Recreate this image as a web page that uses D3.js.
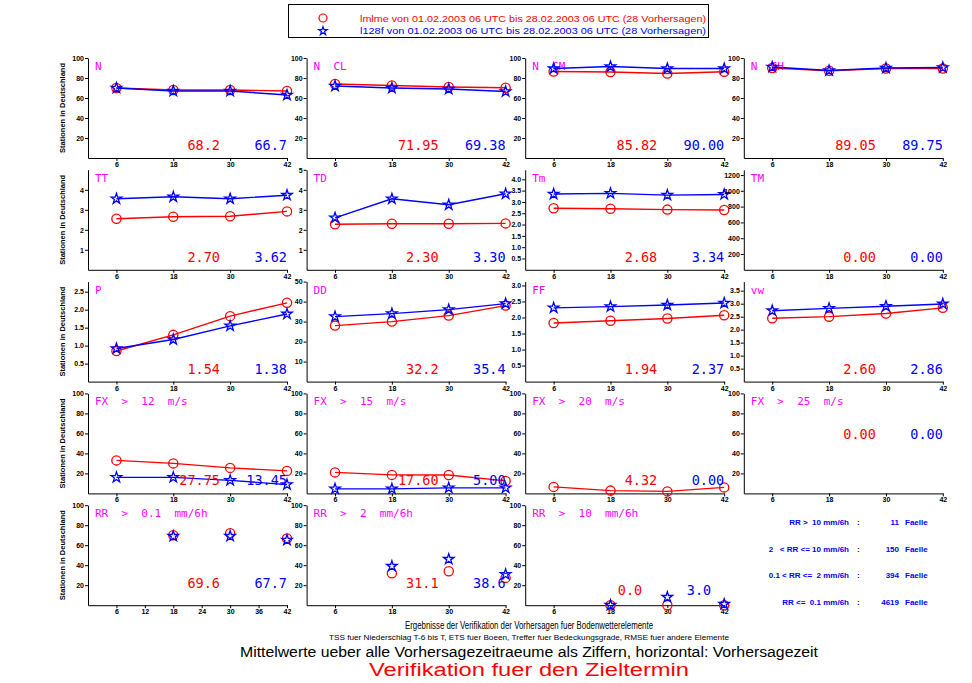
<!DOCTYPE html>
<html>
<head>
<meta charset="utf-8">
<script src="https://cdn.jsdelivr.net/npm/d3@7"></script>
<style>
body { margin: 0; background: #fff; }
svg { display: block; }
.axis text { font-family: "Liberation Sans", Arial, sans-serif; font-size: 7px; font-weight: bold; fill: #000; }
.axis path, .axis line { stroke: #000; stroke-width: 1; }
</style>
</head>
<body>
<div id="chart"></div>
<script>
const width = 972, height = 683;

// lead times (hours)
const leadTimes = [6, 18, 30, 42];
const rrTickTimes = [6, 12, 18, 24, 30, 36, 42];

const titles = ["N", "N  CL", "N  CM", "N  CH",
  "TT", "TD", "Tm", "TM",
  "P", "DD", "FF", "vw",
  "FX  >  12  m/s", "FX  >  15  m/s", "FX  >  20  m/s", "FX  >  25  m/s",
  "RR  >  0.1  mm/6h", "RR  >  2  mm/6h", "RR  >  10  mm/6h"];

// red circles: lmlme
const lmlmeValues = [
  [70, 68, 68, 67], [74, 72.5, 71, 70.3], [86.5, 86, 84.5, 86.3], [90, 87.2, 89.5, 89.5],
  [2.55, 2.65, 2.68, 2.92], [2.28, 2.3, 2.3, 2.32], [2.72, 2.7, 2.66, 2.64], [],
  [0.85, 1.3, 1.82, 2.19], [28, 30, 33, 38], [1.83, 1.9, 1.97, 2.07], [2.44, 2.5, 2.62, 2.84],
  [33, 30, 25.5, 22.5], [21, 18.5, 18.4, 12.5], [6.5, 2.8, 2, 6], [],
  [null, 70, 72, 66.8], [null, 32, 34, 27.3], [null, 0, 0, 0]
];
// blue stars: l128f
const l128fValues = [
  [70, 67, 67, 63], [72, 70, 69, 66.5], [89.5, 91.5, 89.5, 89.5], [91, 87.5, 90, 90.5],
  [3.55, 3.65, 3.55, 3.73], [2.6, 3.55, 3.25, 3.8], [3.35, 3.38, 3.3, 3.33], [],
  [0.92, 1.17, 1.55, 1.88], [32.5, 34, 36, 39], [2.3, 2.34, 2.39, 2.45], [2.73, 2.82, 2.9, 2.99],
  [16, 16, 13, 8.8], [4.5, 4.5, 5.5, 5.5], [], [],
  [null, 69, 69, 65.1], [null, 39, 46, 30.8], [null, 0, 8, 1]
];
const lmlmeMeans = ["68.2", "71.95", "85.82", "89.05", "2.70", "2.30", "2.68", "0.00",
  "1.54", "32.2", "1.94", "2.60", "27.75", "17.60", "4.32", "0.00", "69.6", "31.1", "0.0"];
const l128fMeans = ["66.7", "69.38", "90.00", "89.75", "3.62", "3.30", "3.34", "0.00",
  "1.38", "35.4", "2.37", "2.86", "13.45", "5.00", "0.00", "0.00", "67.7", "38.6", "3.0"];

const yMax = [100, 100, 100, 100, 5, 5, 4.42, 1266, 2.78, 50, 3.12, 3.85,
  100, 100, 100, 100, 100, 100, 100];
const pct = [20, 40, 60, 80, 100];
const half = n => d3.range(1, n + 1).map(i => i * 0.5);
const yTicks = [pct, pct, pct, pct,
  [1, 2, 3, 4], [1, 2, 3, 4, 5], half(8), [200, 400, 600, 800, 1000, 1200],
  half(5), [10, 20, 30, 40, 50], half(6), half(7),
  pct, pct, pct, pct, pct, pct, pct];
const oneDecimal = [6, 8, 10, 11];

const rrClasses = ["RR >  10 mm/6h", "2   < RR <= 10 mm/6h", "0.1 < RR <=  2 mm/6h", "RR <=  0.1 mm/6h"];
const rrCounts = ["11", "150", "394", "4619"];

const legendLines = [
  "lmlme von 01.02.2003 06 UTC bis 28.02.2003 06 UTC (28 Vorhersagen)",
  "l128f von 01.02.2003 06 UTC bis 28.02.2003 06 UTC (28 Vorhersagen)"
];

const RED = "#ff0000", BLUE = "#0000ff", MAG = "#ff00ff";

const svg = d3.select("#chart").append("svg")
  .attr("width", width).attr("height", height);

// legend box
svg.append("rect").attr("x", 288.5).attr("y", 4.5).attr("width", 420).attr("height", 33)
  .attr("fill", "none").attr("stroke", "#000");
svg.append("circle").attr("cx", 323).attr("cy", 18).attr("r", 4)
  .attr("fill", "none").attr("stroke", RED).attr("stroke-width", 1.2);
svg.append("path").attr("d", d3.symbol(d3.symbolStar, 22)())
  .attr("transform", "translate(323,31)")
  .attr("fill", "none").attr("stroke", BLUE).attr("stroke-width", 1.2);
legendLines.forEach((t, i) => {
  svg.append("text").attr("x", 360).attr("y", 22 + i * 12)
    .attr("textLength", 346).attr("lengthAdjust", "spacingAndGlyphs")
    .style("font-family", "Liberation Sans, Arial, sans-serif").style("font-size", "9px")
    .attr("fill", i === 0 ? RED : BLUE).text(t);
});

const circleR = 4.6;
const star = d3.symbol(d3.symbolStar, 34)();

titles.forEach((title, i) => {
  const row = Math.floor(i / 4), col = i % 4;
  const x0 = 88 + col * 218.6, x1 = x0 + 199;
  const top = 58 + row * 111.8, bottom = top + 100;

  const x = d3.scaleLinear().domain([0, 42]).range([x0, x1]);
  const y = d3.scaleLinear().domain([0, yMax[i]]).range([bottom, top]);

  const g = svg.append("g");

  const xAxis = d3.axisBottom(x).tickValues(i === 16 ? rrTickTimes : leadTimes)
    .tickSize(3).tickSizeOuter(0).tickPadding(1);
  g.append("g").attr("class", "axis").attr("transform", "translate(0," + bottom + ")")
    .call(xAxis);

  const fmt = oneDecimal.includes(i) ? d3.format(".1f") : d3.format("d");
  const yAxis = d3.axisLeft(y).tickValues(yTicks[i]).tickFormat(fmt)
    .tickSize(3).tickSizeOuter(0).tickPadding(1);
  g.append("g").attr("class", "axis").attr("transform", "translate(" + x0 + ",0)")
    .call(yAxis);
  g.selectAll(".axis").attr("font-family", null).attr("font-size", null);

  if (col === 0) {
    g.append("text")
      .attr("transform", "translate(65," + (top + 50) + ") rotate(-90)")
      .attr("text-anchor", "middle")
      .attr("textLength", 90).attr("lengthAdjust", "spacingAndGlyphs")
      .style("font-family", "Liberation Sans, Arial, sans-serif")
      .style("font-size", "7.5px").style("font-weight", "bold")
      .text("Stationen in Deutschland");
  }

  g.append("text").attr("x", x0 + 7).attr("y", top + 12)
    .style("font-family", "DejaVu Sans Mono, monospace").style("font-size", "11px")
    .attr("fill", MAG).attr("xml:space", "preserve").style("white-space", "pre")
    .text(title);

  const series = [
    { values: lmlmeValues[i], color: RED, mark: "circle" },
    { values: l128fValues[i], color: BLUE, mark: "star" }
  ];
  const markerOnly = row === 4;
  const line = d3.line().defined(d => d.v != null).x(d => x(d.t)).y(d => y(d.v));

  series.forEach(s => {
    const pts = s.values.map((v, k) => ({ t: leadTimes[k], v: v })).filter(d => d.v != null);
    if (!pts.length) return;
    if (!markerOnly) {
      g.append("path").attr("d", line(pts)).attr("fill", "none")
        .attr("stroke", s.color).attr("stroke-width", 1.4);
    }
    if (s.mark === "circle") {
      g.selectAll(null).data(pts).enter().append("circle")
        .attr("cx", d => x(d.t)).attr("cy", d => y(d.v)).attr("r", circleR)
        .attr("fill", "none").attr("stroke", s.color).attr("stroke-width", 1.3);
    } else {
      g.selectAll(null).data(pts).enter().append("path")
        .attr("d", star)
        .attr("transform", d => "translate(" + x(d.t) + "," + y(d.v) + ")")
        .attr("fill", "none").attr("stroke", s.color).attr("stroke-width", 1.3);
    }
  });

  // mean values
  let base = bottom - 8, redEnd = x1 - 67, blueEnd = x1;
  if (i === 15) base = top + 46;
  if (i === 16 || i === 17) base = bottom - 17;
  if (i === 18) { base = bottom - 10; redEnd = x1 - 82; blueEnd = x1 - 13; }
  [[lmlmeMeans[i], RED, redEnd], [l128fMeans[i], BLUE, blueEnd]].forEach(m => {
    g.append("text").attr("x", m[2]).attr("y", base).attr("text-anchor", "end")
      .style("font-family", "DejaVu Sans Mono, monospace").style("font-size", "13.5px")
      .attr("fill", m[1]).text(m[0]);
  });
});

// RR class counts (bottom right)
rrClasses.forEach((c, k) => {
  const yy = 525 + k * 26.5;
  const t = svg.append("g").style("font-family", "Liberation Sans, Arial, sans-serif")
    .style("font-size", "8px").style("font-weight", "bold").attr("fill", BLUE);
  t.append("text").attr("x", 849).attr("y", yy).attr("text-anchor", "end")
    .attr("xml:space", "preserve").style("white-space", "pre").text(c);
  t.append("text").attr("x", 857).attr("y", yy).text(":");
  t.append("text").attr("x", 899).attr("y", yy).attr("text-anchor", "end").text(rrCounts[k]);
  t.append("text").attr("x", 905).attr("y", yy).text("Faelle");
});

// footer
const footer = [
  { t: "Ergebnisse der Verifikation der Vorhersagen fuer Bodenwetterelemente", y: 629, s: 10, len: 248, c: "#000" },
  { t: "TSS fuer Niederschlag T-6 bis T, ETS fuer Boeen, Treffer fuer Bedeckungsgrade, RMSE fuer andere Elemente", y: 640, s: 8, len: 400, c: "#000" },
  { t: "Mittelwerte ueber alle Vorhersagezeitraeume als Ziffern, horizontal: Vorhersagezeit", y: 657, s: 14, len: 578, c: "#000" },
  { t: "Verifikation fuer den Zieltermin", y: 676, s: 18, len: 320, c: RED }
];
footer.forEach(f => {
  svg.append("text").attr("x", 529).attr("y", f.y).attr("text-anchor", "middle")
    .attr("textLength", f.len).attr("lengthAdjust", "spacingAndGlyphs")
    .style("font-family", "Liberation Sans, Arial, sans-serif").style("font-size", f.s + "px")
    .attr("fill", f.c).text(f.t);
});
</script>
</body>
</html>
